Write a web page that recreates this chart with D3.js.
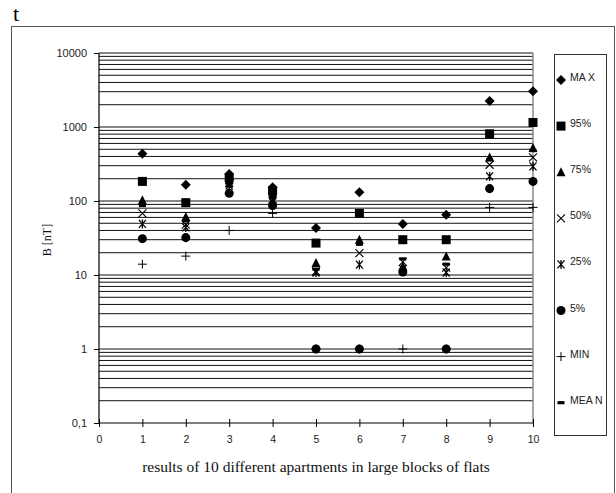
<!DOCTYPE html>
<html><head><meta charset="utf-8">
<script src="https://cdn.jsdelivr.net/npm/d3@7"></script>
<style>body{margin:0;background:#fff}svg{display:block}</style>
</head><body>
<svg id="c" width="616" height="493"></svg>
<script>
const apartments = [1,2,3,4,5,6,7,8,9,10];
const maxV  = [436, 166, 232, 153, 43, 131, 49, 65, 2240, 3030];
const p95   = [184, 95, 205, 138, 27, 68, 30, 30, 810, 1150];
const p75   = [102, 61, 190, 125, 14.5, 30, 13, 17.8, 388, 520];
const p50   = [68, 48, 175, 105, 11.2, 19.8, 15, 12.6, 309, 388];
const p25   = [49, 44, 162, 97, 10.8, 13.8, 12, 10.8, 215, 294];
const p5    = [31, 32, 127, 87, 1, 1, 11, 1, 147, 184];
const minV  = [14, 18, 40, 68, 1, 1, 1, 1, 82, 82];
const meanV = [87, 54, 160, 110, 12, 26, 16.5, 14, 363, 480];
const seriesNames = ["MA X","95%","75%","50%","25%","5%","MIN","MEA N"];
const seriesData = [maxV,p95,p75,p50,p25,p5,minV,meanV];
const seriesShapes = ["diamond","square","triangle","x","star","circle","plus","dash"];
const yTickValues = [0.1,1,10,100,1000,10000];
const yTickLabels = ["0,1","1","10","100","1000","10000"];
const xTickValues = [0,1,2,3,4,5,6,7,8,9,10];

const svg = d3.select("#c");
svg.append("rect").attr("width",616).attr("height",493).attr("fill","#fff");
svg.append("text").attr("x",13).attr("y",21).attr("font-family","Liberation Serif, serif")
  .attr("font-size",22).attr("fill","#000").text("t");
svg.append("rect").attr("x",11.5).attr("y",26.5).attr("width",603).attr("height",480)
  .attr("fill","none").attr("stroke","#555").attr("stroke-width",1);

const x = d3.scaleLinear().domain([0,10]).range([99,533]);
const y = d3.scaleLog().domain([0.1,10000]).range([423,53]);

// gridlines
const grid = [];
for (let e=-1;e<=3;e++) for (let m=1;m<=9;m++) grid.push(m*Math.pow(10,e));
grid.push(10000);
svg.append("g").selectAll("line").data(grid.filter(v=>v>0.1)).join("line")
  .attr("x1",99).attr("x2",533).attr("y1",d=>y(d)).attr("y2",d=>y(d))
  .attr("stroke","#111").attr("stroke-width",1);
svg.append("line").attr("x1",533).attr("x2",533).attr("y1",53).attr("y2",423)
  .attr("stroke","#888").attr("stroke-width",1.5);

// axes
const tickFont = "Liberation Sans, Arial, sans-serif";
const ya = svg.append("g").attr("transform","translate(99,0)")
  .call(d3.axisLeft(y).tickValues(yTickValues).tickFormat((d,i)=>yTickLabels[i]).tickSize(5).tickPadding(7));
ya.select(".domain").attr("stroke","#000").attr("stroke-width",1.2).attr("d","M0,53V423");
ya.selectAll("text").attr("font-family",tickFont).attr("font-size",11).attr("fill","#222");
const xa = svg.append("g").attr("transform","translate(0,423)")
  .call(d3.axisBottom(x).tickValues(xTickValues).tickFormat(d3.format("d")).tickSize(4).tickPadding(9));
xa.select(".domain").attr("stroke","#000").attr("stroke-width",1.2).attr("d","M99,0H533");
xa.selectAll(".tick line").attr("y1",-4).attr("y2",4).attr("stroke","#000");
xa.selectAll("text").attr("font-family",tickFont).attr("font-size",10.5).attr("fill","#222");

svg.append("text").attr("x",316).attr("y",472).attr("text-anchor","middle")
  .attr("font-family","Liberation Serif, serif").attr("font-size",15.5).attr("fill","#111")
  .text("results of 10 different apartments in large blocks of flats");
svg.append("text").attr("transform","translate(51,240) rotate(-90)").attr("text-anchor","middle")
  .attr("font-family","Liberation Serif, serif").attr("font-size",12).attr("fill","#111")
  .text("B [nT]");

function shapePath(s){
  switch(s){
    case "diamond": return "M0,-5L5,0L0,5L-5,0Z";
    case "square": return "M-4.5,-4.5H4.5V4.5H-4.5Z";
    case "triangle": return "M0,-5L4.5,4L-4.5,4Z";
    case "circle": return d3.symbol(d3.symbolCircle,64)();
    case "dash": return "M-3.5,-1.6H3.5V1.6H-3.5Z";
  }
  return null;
}
function drawMarker(g,s){
  if (s==="x"){
    g.append("path").attr("d","M-4,-4L4,4M4,-4L-4,4").attr("stroke","#000").attr("stroke-width",1.1).attr("fill","none");
  } else if (s==="star"){
    g.append("path").attr("d","M-3.5,-4L3.5,4M3.5,-4L-3.5,4M0,-4.5V4.5").attr("stroke","#000").attr("stroke-width",1.3).attr("fill","none");
  } else if (s==="plus"){
    g.append("path").attr("d","M-4.5,0H4.5M0,-4.5V4.5").attr("stroke","#000").attr("stroke-width",1).attr("fill","none");
  } else {
    g.append("path").attr("d",shapePath(s)).attr("fill","#000");
  }
}

// points
seriesData.forEach((vals,si)=>{
  const g = svg.append("g");
  vals.forEach((v,i)=>{
    const mg = g.append("g").attr("transform",`translate(${x(apartments[i])},${y(v)})`);
    drawMarker(mg, seriesShapes[si]);
  });
});

// legend
svg.append("rect").attr("x",554.5).attr("y",54.5).attr("width",52).attr("height",381)
  .attr("fill","#fff").attr("stroke","#333").attr("stroke-width",1);
seriesNames.forEach((n,i)=>{
  const ly = 78 + i*46.1;
  const mg = svg.append("g").attr("transform",`translate(561,${ly+2})`);
  drawMarker(mg, seriesShapes[i]);
  svg.append("text").attr("x",570).attr("y",ly+3).attr("font-family",tickFont)
    .attr("font-size",10.5).attr("fill","#222").text(n);
});
</script>
</body></html>
